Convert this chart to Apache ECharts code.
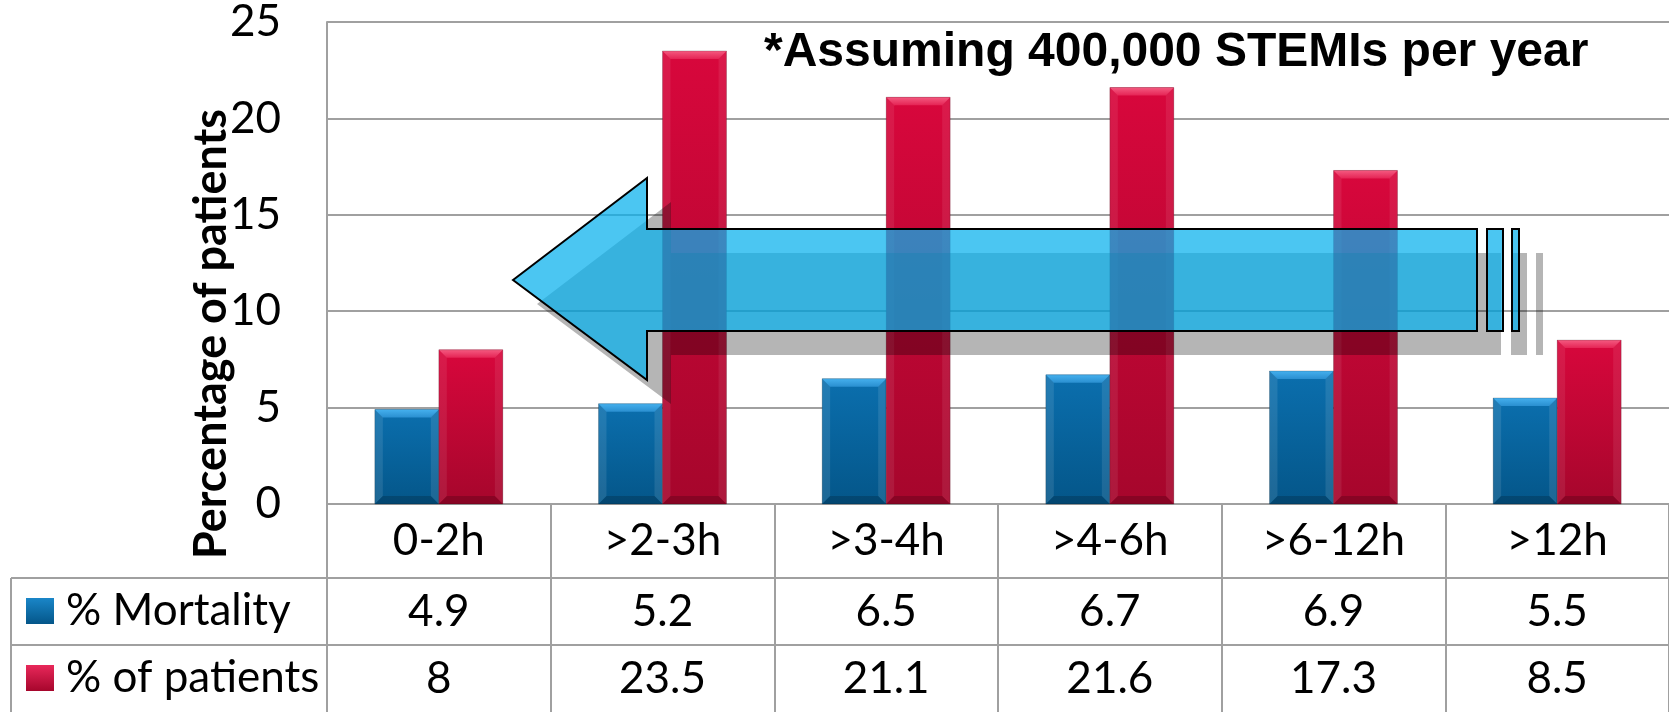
<!DOCTYPE html>
<html>
<head>
<meta charset="utf-8">
<script src="https://cdn.jsdelivr.net/npm/echarts@6/dist/echarts.min.js"></script>
<style>
html,body{margin:0;padding:0;background:#fff;}
#chart{width:1669px;height:712px;}
</style>
</head>
<body>
<div id="chart"></div>
<script>
const categories = ['0-2h', '>2-3h', '>3-4h', '>4-6h', '>6-12h', '>12h'];
const mortality = [4.9, 5.2, 6.5, 6.7, 6.9, 5.5];
const patients = [8, 23.5, 21.1, 21.6, 17.3, 8.5];
const seriesNames = ['% Mortality', '% of patients'];
const yAxisTitle = 'Percentage of patients';
const noteText = '*Assuming 400,000 STEMIs per year';

const GRID = '#a0a0a0';
const FONT = 'Lato';

const chart = echarts.init(document.getElementById('chart'), null, {renderer: 'canvas'});

const grad = (a, b) => new echarts.graphic.LinearGradient(0, 0, 0, 1, [{offset: 0, color: a}, {offset: 1, color: b}]);

const palettes = [
  {main: ['#0b6fae', '#045689'], top: ['#45b0ee', '#2a8fd0'], side: 'rgba(255,255,255,0.10)', bottom: 'rgba(0,0,0,0.18)'},
  {main: ['#d8073c', '#a6062c'], top: ['#f45a80', '#e52455'], side: 'rgba(255,255,255,0.08)', bottom: 'rgba(0,0,0,0.18)'}
];

function bevelBar(k) {
  return function (params, api) {
    const idx = api.value(0), val = api.value(1);
    const base = api.coord([idx, 0]);
    const top = api.coord([idx, val]);
    const bw = api.size([1, 0])[0] * 0.2862;
    const x0 = base[0] - bw + k * bw, x1 = x0 + bw;
    const y0 = top[1], y1 = base[1];
    const h = y1 - y0;
    const b = Math.min(8, h / 3);
    const p = palettes[k];
    return {
      type: 'group',
      children: [
        {type: 'rect', shape: {x: x0, y: y0, width: bw, height: h}, style: {fill: grad(p.main[0], p.main[1])}},
        {type: 'polygon', shape: {points: [[x0, y0], [x1, y0], [x1 - b, y0 + b], [x0 + b, y0 + b]]}, style: {fill: grad(p.top[0], p.top[1])}},
        {type: 'polygon', shape: {points: [[x0, y0], [x0 + b, y0 + b], [x0 + b, y1 - b], [x0, y1]]}, style: {fill: p.side}},
        {type: 'polygon', shape: {points: [[x1, y0], [x1 - b, y0 + b], [x1 - b, y1 - b], [x1, y1]]}, style: {fill: p.side}},
        {type: 'polygon', shape: {points: [[x0, y1], [x0 + b, y1 - b], [x1 - b, y1 - b], [x1, y1]]}, style: {fill: p.bottom}},
        {type: 'rect', shape: {x: x0, y: y0, width: bw, height: h}, style: {fill: 'none', stroke: 'rgba(0,0,0,0.18)', lineWidth: 1}}
      ]
    };
  };
}

// arrow geometry (decoration)
const arrowPts = [[513,280],[647,178],[647,229],[1477,229],[1477,331],[647,331],[647,380]];
const shadowOff = 24;
const shift = (pts, d) => pts.map(p => [p[0] + d, p[1] + d]);
const rectPts = (x0, x1, y0, y1) => [[x0,y0],[x1,y0],[x1,y1],[x0,y1]];
const smallRects = [rectPts(1487,1503,229,331), rectPts(1512,1519,229,331)];

const arrowFill = 'rgba(8,177,237,0.73)';
const shadowFill = 'rgba(0,0,0,0.29)';

const graphics = [];
graphics.push({type:'polygon', z:50, shape:{points: shift(arrowPts, shadowOff)}, style:{fill: shadowFill}});
smallRects.forEach(r => graphics.push({type:'polygon', z:50, shape:{points: shift(r, shadowOff)}, style:{fill: shadowFill}}));
graphics.push({type:'polygon', z:51, shape:{points: arrowPts}, style:{fill: arrowFill, stroke:'#000', lineWidth:2}});
smallRects.forEach(r => graphics.push({type:'polygon', z:51, shape:{points: r}, style:{fill: arrowFill, stroke:'#000', lineWidth:2}}));
graphics.push({type:'text', z:60, x:764, y:53, style:{text: noteText, font:'bold 48px "Liberation Sans", Arial, sans-serif', fill:'#000', verticalAlign:'middle', align:'left'}});
graphics.push({type:'text', z:60, x:211, y:334, rotation: Math.PI/2, style:{text: yAxisTitle, font:'bold 45px Lato, sans-serif', fill:'#000', verticalAlign:'middle', align:'center'}});
graphics.push({type:'line', z:5, shape:{x1:11, y1:578, x2:1669, y2:578}, style:{stroke: GRID, lineWidth:2}});
graphics.push({type:'line', z:5, shape:{x1:11, y1:645, x2:1669, y2:645}, style:{stroke: GRID, lineWidth:2}});
graphics.push({type:'line', z:5, shape:{x1:11, y1:578, x2:11, y2:712}, style:{stroke: GRID, lineWidth:2}});

const option = {
  backgroundColor: '#fff',
  animation: false,
  grid: {left: 327, top: 22, right: 0, bottom: 208, containLabel: false},
  legend: {
    data: seriesNames,
    orient: 'vertical',
    left: 26, top: 589, padding: 0,
    itemWidth: 28, itemHeight: 26, itemGap: 23,
    icon: 'rect',
    textStyle: {fontSize: 44, lineHeight: 44, color: '#000', fontFamily: FONT, padding: [0, 0, 0, 7]}
  },
  xAxis: {
    type: 'category',
    data: categories,
    boundaryGap: true,
    axisLine: {show: true, lineStyle: {color: GRID, width: 2}},
    axisTick: {show: true, interval: 0, length: 208, lineStyle: {color: GRID, width: 2}},
    axisLabel: {
      interval: 0, margin: 0,
      formatter: (v, i) => `{c|${v}}\n{v|${mortality[i]}}\n{v|${patients[i]}}`,
      rich: {
        c: {fontSize: 44, lineHeight: 74, fontFamily: FONT, color: '#000'},
        v: {fontSize: 44, lineHeight: 67, fontFamily: FONT, color: '#000'}
      }
    },
    splitLine: {show: false}
  },
  yAxis: {
    type: 'value', min: 0, max: 25, interval: 5,
    axisLine: {show: true, lineStyle: {color: GRID, width: 2}},
    axisTick: {show: false},
    axisLabel: {fontSize: 44, fontFamily: FONT, color: '#000', margin: 46},
    splitLine: {show: true, lineStyle: {color: GRID, width: 2}}
  },
  series: [
    {name: seriesNames[0], type: 'custom', renderItem: bevelBar(0), encode: {x: 0, y: 1},
     data: mortality.map((v, i) => [i, v]), itemStyle: {color: grad('#1a86c8', '#045689')}, z: 3},
    {name: seriesNames[1], type: 'custom', renderItem: bevelBar(1), encode: {x: 0, y: 1},
     data: patients.map((v, i) => [i, v]), itemStyle: {color: grad('#e8285a', '#a6062c')}, z: 3}
  ],
  graphic: graphics
};
chart.setOption(option);
</script>
</body>
</html>
